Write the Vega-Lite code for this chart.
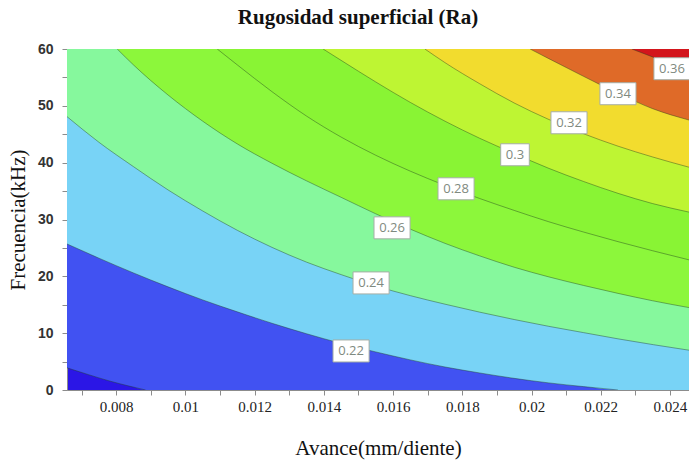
{
  "$schema": "https://vega.github.io/schema/vega-lite/v6.json",
  "width": 622,
  "height": 341,
  "autosize": "none",
  "padding": {"left": 67, "top": 49, "right": 0, "bottom": 73},
  "background": "white",
  "title": {
    "text": "Rugosidad superficial (Ra)",
    "font": "Liberation Serif",
    "fontSize": 21,
    "fontWeight": "bold",
    "color": "#111111",
    "anchor": "middle",
    "frame": "group",
    "dx": -20,
    "offset": 14
  },
  "config": {
    "view": {"fill": "#2b16e6", "stroke": "#c4c4c4", "strokeWidth": 1},
    "axis": {"grid": false}
  },
  "datasets": {
    "contours": [
      {"level": "0.20", "x": 0.00658, "y": 3.9},
      {"level": "0.20", "x": 0.0072, "y": 2.7},
      {"level": "0.20", "x": 0.0078, "y": 1.6},
      {"level": "0.20", "x": 0.0084, "y": 0.65},
      {"level": "0.20", "x": 0.00885, "y": 0},
      {"level": "0.20", "x": 0.02455, "y": 0, "closure": true},

      {"level": "0.22", "x": 0.00658, "y": 25.7},
      {"level": "0.22", "x": 0.0075, "y": 23.2},
      {"level": "0.22", "x": 0.0085, "y": 20.6},
      {"level": "0.22", "x": 0.0095, "y": 18.15},
      {"level": "0.22", "x": 0.0105, "y": 15.85},
      {"level": "0.22", "x": 0.0115, "y": 13.75},
      {"level": "0.22", "x": 0.0125, "y": 11.75},
      {"level": "0.22", "x": 0.0135, "y": 9.9},
      {"level": "0.22", "x": 0.0145, "y": 8.2},
      {"level": "0.22", "x": 0.0155, "y": 6.7},
      {"level": "0.22", "x": 0.0165, "y": 5.3},
      {"level": "0.22", "x": 0.0175, "y": 4.05},
      {"level": "0.22", "x": 0.0185, "y": 3.0},
      {"level": "0.22", "x": 0.0195, "y": 2.05},
      {"level": "0.22", "x": 0.0205, "y": 1.25},
      {"level": "0.22", "x": 0.0215, "y": 0.6},
      {"level": "0.22", "x": 0.0225, "y": 0},
      {"level": "0.22", "x": 0.02455, "y": 0, "closure": true},

      {"level": "0.24", "x": 0.00658, "y": 48.1},
      {"level": "0.24", "x": 0.0075, "y": 43.6},
      {"level": "0.24", "x": 0.0085, "y": 39.3},
      {"level": "0.24", "x": 0.0095, "y": 35.2},
      {"level": "0.24", "x": 0.0105, "y": 31.5},
      {"level": "0.24", "x": 0.0115, "y": 28.1},
      {"level": "0.24", "x": 0.0125, "y": 25.1},
      {"level": "0.24", "x": 0.0135, "y": 22.5},
      {"level": "0.24", "x": 0.0145, "y": 20.3},
      {"level": "0.24", "x": 0.0155, "y": 18.3},
      {"level": "0.24", "x": 0.0165, "y": 16.6},
      {"level": "0.24", "x": 0.0175, "y": 15.1},
      {"level": "0.24", "x": 0.0185, "y": 13.7},
      {"level": "0.24", "x": 0.0195, "y": 12.4},
      {"level": "0.24", "x": 0.0205, "y": 11.2},
      {"level": "0.24", "x": 0.0215, "y": 10.1},
      {"level": "0.24", "x": 0.0225, "y": 9.0},
      {"level": "0.24", "x": 0.02455, "y": 7.0},

      {"level": "0.26", "x": 0.00803, "y": 60},
      {"level": "0.26", "x": 0.0085, "y": 57.2},
      {"level": "0.26", "x": 0.0095, "y": 51.9},
      {"level": "0.26", "x": 0.0105, "y": 47.3},
      {"level": "0.26", "x": 0.0115, "y": 43.3},
      {"level": "0.26", "x": 0.0125, "y": 39.9},
      {"level": "0.26", "x": 0.0135, "y": 36.8},
      {"level": "0.26", "x": 0.0145, "y": 33.9},
      {"level": "0.26", "x": 0.0155, "y": 31.0},
      {"level": "0.26", "x": 0.0165, "y": 28.3},
      {"level": "0.26", "x": 0.0175, "y": 25.8},
      {"level": "0.26", "x": 0.0185, "y": 23.6},
      {"level": "0.26", "x": 0.0195, "y": 21.6},
      {"level": "0.26", "x": 0.0205, "y": 19.9},
      {"level": "0.26", "x": 0.0215, "y": 18.4},
      {"level": "0.26", "x": 0.0225, "y": 17.0},
      {"level": "0.26", "x": 0.0235, "y": 15.7},
      {"level": "0.26", "x": 0.02455, "y": 14.5},

      {"level": "0.28", "x": 0.01092, "y": 60},
      {"level": "0.28", "x": 0.0115, "y": 57.2},
      {"level": "0.28", "x": 0.0125, "y": 52.5},
      {"level": "0.28", "x": 0.0135, "y": 48.2},
      {"level": "0.28", "x": 0.0145, "y": 44.5},
      {"level": "0.28", "x": 0.0155, "y": 41.3},
      {"level": "0.28", "x": 0.0165, "y": 38.5},
      {"level": "0.28", "x": 0.0175, "y": 36.0},
      {"level": "0.28", "x": 0.0185, "y": 33.7},
      {"level": "0.28", "x": 0.0195, "y": 31.6},
      {"level": "0.28", "x": 0.0205, "y": 29.6},
      {"level": "0.28", "x": 0.0215, "y": 27.8},
      {"level": "0.28", "x": 0.0225, "y": 26.1},
      {"level": "0.28", "x": 0.0235, "y": 24.5},
      {"level": "0.28", "x": 0.02455, "y": 22.9},

      {"level": "0.30", "x": 0.01398, "y": 60},
      {"level": "0.30", "x": 0.0145, "y": 58.0},
      {"level": "0.30", "x": 0.0155, "y": 54.2},
      {"level": "0.30", "x": 0.0165, "y": 50.6},
      {"level": "0.30", "x": 0.0175, "y": 47.3},
      {"level": "0.30", "x": 0.0185, "y": 44.3},
      {"level": "0.30", "x": 0.0195, "y": 41.6},
      {"level": "0.30", "x": 0.0205, "y": 39.0},
      {"level": "0.30", "x": 0.0215, "y": 36.7},
      {"level": "0.30", "x": 0.0225, "y": 34.6},
      {"level": "0.30", "x": 0.0235, "y": 32.8},
      {"level": "0.30", "x": 0.02455, "y": 31.3},

      {"level": "0.32", "x": 0.01692, "y": 60},
      {"level": "0.32", "x": 0.0175, "y": 57.6},
      {"level": "0.32", "x": 0.0185, "y": 53.9},
      {"level": "0.32", "x": 0.0195, "y": 50.5},
      {"level": "0.32", "x": 0.0205, "y": 47.6},
      {"level": "0.32", "x": 0.0215, "y": 45.1},
      {"level": "0.32", "x": 0.0225, "y": 42.9},
      {"level": "0.32", "x": 0.0235, "y": 41.0},
      {"level": "0.32", "x": 0.02455, "y": 39.2},

      {"level": "0.34", "x": 0.01996, "y": 60},
      {"level": "0.34", "x": 0.0205, "y": 58.3},
      {"level": "0.34", "x": 0.0215, "y": 55.2},
      {"level": "0.34", "x": 0.0225, "y": 52.2},
      {"level": "0.34", "x": 0.0235, "y": 49.5},
      {"level": "0.34", "x": 0.02455, "y": 47.5},

      {"level": "0.36", "x": 0.0229, "y": 60},
      {"level": "0.36", "x": 0.0235, "y": 58.6},
      {"level": "0.36", "x": 0.024, "y": 57.4},
      {"level": "0.36", "x": 0.02455, "y": 56.2}
    ],
    "labels": [
      {"label": "0.22", "x": 0.014787, "y": 6.87},
      {"label": "0.24", "x": 0.015365, "y": 18.84},
      {"label": "0.26", "x": 0.015971, "y": 28.53},
      {"label": "0.28", "x": 0.01782, "y": 35.4},
      {"label": "0.3", "x": 0.019523, "y": 41.39},
      {"label": "0.32", "x": 0.021083, "y": 47.02},
      {"label": "0.34", "x": 0.022498, "y": 52.13},
      {"label": "0.36", "x": 0.024058, "y": 56.53}
    ]
  },
  "encoding": {
    "x": {
      "field": "x",
      "type": "quantitative",
      "scale": {"domain": [0.00658, 0.02455], "nice": false, "zero": false},
      "axis": {
        "title": "Avance(mm/diente)",
        "titleFont": "Liberation Serif",
        "titleFontSize": 21,
        "titleFontWeight": "normal",
        "titleColor": "#111111",
        "titlePadding": 23,
        "values": [0.007, 0.008, 0.009, 0.01, 0.011, 0.012, 0.013, 0.014, 0.015, 0.016, 0.017, 0.018, 0.019, 0.02, 0.021, 0.022, 0.023, 0.024],
        "format": "~g",
        "labelExpr": "round(datum.value * 1000) % 2 == 0 ? datum.label : ''",
        "labelFont": "Liberation Serif",
        "labelFontSize": 15,
        "labelColor": "#222222",
        "labelPadding": 4,
        "labelFlush": false,
        "labelOverlap": false,
        "tickSize": 5,
        "tickColor": "#8c8c8c",
        "domainColor": "#8c8c8c"
      }
    },
    "y": {
      "field": "y",
      "type": "quantitative",
      "stack": null,
      "scale": {"domain": [0, 60], "nice": false, "zero": false},
      "axis": {
        "title": "Frecuencia(kHz)",
        "titleFont": "Liberation Serif",
        "titleFontSize": 21,
        "titleFontWeight": "normal",
        "titleColor": "#111111",
        "titlePadding": 9,
        "values": [0, 5, 10, 15, 20, 25, 30, 35, 40, 45, 50, 55, 60],
        "labelExpr": "datum.value % 10 == 0 ? datum.label : ''",
        "labelFont": "Liberation Sans",
        "labelFontSize": 14,
        "labelFontWeight": "bold",
        "labelColor": "#333333",
        "labelPadding": 9,
        "labelFlush": false,
        "labelOverlap": false,
        "tickSize": 5,
        "tickColor": "#8c8c8c",
        "domainColor": "#8c8c8c"
      }
    }
  },
  "layer": [
    {
      "data": {"name": "contours"},
      "mark": {"type": "area", "clip": true, "interpolate": "monotone"},
      "encoding": {
        "y2": {"datum": 60},
        "color": {
          "field": "level",
          "type": "ordinal",
          "scale": {
            "domain": ["0.20", "0.22", "0.24", "0.26", "0.28", "0.30", "0.32", "0.34", "0.36"],
            "range": ["#4152f2", "#78d3f6", "#86f89d", "#8cf73b", "#89f434", "#bef533", "#f2dc2e", "#df6a28", "#d3151c"]
          },
          "legend": null
        }
      }
    },
    {
      "data": {"name": "contours"},
      "transform": [{"filter": "!datum.closure"}],
      "mark": {"type": "line", "clip": true, "interpolate": "monotone", "color": "#1e3a1e", "opacity": 0.42, "strokeWidth": 1},
      "encoding": {
        "detail": {"field": "level", "type": "nominal"}
      }
    },
    {
      "data": {"name": "labels"},
      "mark": {"type": "point", "filled": true, "fill": "white", "stroke": "#a6aea6", "strokeWidth": 1, "opacity": 1, "clip": true},
      "encoding": {
        "shape": {
          "field": "label",
          "type": "nominal",
          "scale": {
            "domain": ["0.22", "0.24", "0.26", "0.28", "0.3", "0.32", "0.34", "0.36"],
            "range": ["M-1.64,-1H1.64V1H-1.64Z", "M-1.64,-1H1.64V1H-1.64Z", "M-1.64,-1H1.64V1H-1.64Z", "M-1.64,-1H1.64V1H-1.64Z", "M-1.3,-1H1.3V1H-1.3Z", "M-1.64,-1H1.64V1H-1.64Z", "M-1.64,-1H1.64V1H-1.64Z", "M-1.64,-1H1.64V1H-1.64Z"]
          },
          "legend": null
        },
        "size": {"value": 484}
      }
    },
    {
      "data": {"name": "labels"},
      "mark": {"type": "text", "font": "Open Sans", "fontSize": 13, "color": "#7f8a80", "align": "center", "baseline": "middle"},
      "encoding": {
        "text": {"field": "label", "type": "nominal"}
      }
    }
  ]
}
